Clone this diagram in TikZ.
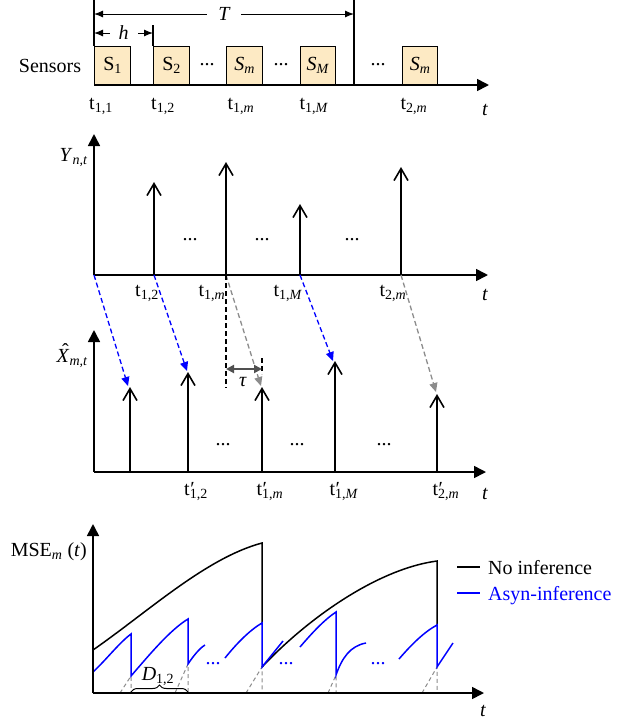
\documentclass[tikz,border=0pt]{standalone}
\usepackage{fontspec}
\setmainfont{Liberation Serif}
\usetikzlibrary{arrows.meta,decorations.pathreplacing}
\definecolor{boxfill}{RGB}{253,234,196}
\definecolor{dashgray}{RGB}{140,140,140}
\definecolor{taugray}{RGB}{80,80,80}
\newcommand\sbs[1]{\textsubscript{#1}}
\newcommand\tpr[1]{t\rlap{\kern0.5pt′}\textsubscript{#1}}
\newcommand\xhat{\rlap{\kern5.5pt\raisebox{5pt}{ˆ}}\textit{X}}
\begin{document}
\begin{tikzpicture}[x=1pt,y=-1pt,font=\fontsize{20}{24}\selectfont,
 axis/.style={line width=1.6pt,-{Triangle[length=12pt,width=12pt]}},
 spike/.style={line width=1.6pt,-{Straight Barb[length=12pt,width=14pt]}},
 sbox/.style={draw,line width=1.2pt,fill=boxfill,anchor=south west,minimum height=38pt,inner sep=0pt},
 dimline/.style={line width=1pt,{Latex[length=9pt,width=7pt]}-{Latex[length=9pt,width=7pt]}},
 guide/.style={line width=1.2pt},
 bluearr/.style={blue,line width=1.3pt,dash pattern=on 5pt off 3pt,-{Triangle[length=9pt,width=8pt]}},
 grayarr/.style={dashgray,line width=1.3pt,dash pattern=on 5pt off 3pt,-{Triangle[length=9pt,width=8pt]}},
 lbl/.style={anchor=base,inner sep=0pt},
 blk/.style={line width=1.5pt},
 blu/.style={blue,line width=1.5pt},
 gdash/.style={dashgray,line width=1pt,dash pattern=on 4pt off 3pt},
 bdash/.style={line width=1.2pt,dash pattern=on 5pt off 3pt},
]
\useasboundingbox (0,0) rectangle (644,721);

% ---------------- Panel 1: sensors ----------------
\node[anchor=center] (sens) at (50,66) {Sensors};
\node[sbox,minimum width=36pt] (s1) at (94,85) {S\sbs{1}};
\node[sbox,minimum width=36pt] (s2) at (153,85) {S\sbs{2}};
\node[sbox,minimum width=36pt] (s3) at (226,85) {\textit{S}\sbs{\textit{m}}};
\node[sbox,minimum width=35pt] (s4) at (300,85) {\textit{S}\sbs{\textit{M}}};
\node[sbox,minimum width=35pt] (s5) at (402,85) {\textit{S}\sbs{\textit{m}}};
\node[lbl] (d1) at (207,65) {...};
\node[lbl] (d2) at (281,65) {...};
\node[lbl] (d3) at (378,65) {...};
\coordinate (g0) at (94,0);
\coordinate (gh) at (153,25);
\coordinate (gT0) at (354,0);
\coordinate (gT1) at (354,85);
\draw[guide] (g0) -- (s1.north west);
\draw[guide] (gh) -- (s2.north west);
\draw[guide] (gT0) -- (gT1);
\draw[dimline] (94,14) -- node[fill=white,inner xsep=11pt,inner ysep=3pt,font=\fontsize{20}{24}\itshape] (T) {T} (354,14);
\draw[dimline] (94,33) -- node[fill=white,inner xsep=9pt,inner ysep=2pt,font=\fontsize{20}{24}\itshape] (h) {h} (153,33);
\coordinate (a1o) at (94,85);
\coordinate (a1e) at (489,85);
\draw[axis] (a1o) -- (a1e);
\node[lbl] at (101,109) {t\sbs{1,1}};
\node[lbl] at (163,109) {t\sbs{1,2}};
\node[lbl] at (241,109) {t\sbs{1,\textit{m}}};
\node[lbl] at (314,109) {t\sbs{1,\textit{M}}};
\node[lbl] at (414,109) {t\sbs{2,\textit{m}}};
\node[lbl] at (485,115) {\textit{t}};

% ---------------- Panel 2: Y ----------------
\coordinate (o2) at (94,275);
\coordinate (y2) at (94,134);
\coordinate (x2) at (488,275);
\draw[axis] (o2) -- (y2);
\draw[axis] (o2) -- (x2);
\node[anchor=base east,inner sep=0pt] at (88,161) {\textit{Y}\sbs{\textit{n,t}}};
\coordinate (p1b) at (154,275); \coordinate (p1t) at (154,182);
\coordinate (p2b) at (226,275); \coordinate (p2t) at (226,162);
\coordinate (p3b) at (300,275); \coordinate (p3t) at (300,204);
\coordinate (p4b) at (401,275); \coordinate (p4t) at (401,167);
\draw[spike] (p1b) -- (p1t);
\draw[spike] (p2b) -- (p2t);
\draw[spike] (p3b) -- (p3t);
\draw[spike] (p4b) -- (p4t);
\node[lbl] at (190,240) {...};
\node[lbl] at (262,240) {...};
\node[lbl] at (352,240) {...};
\node[lbl] at (147,296) {t\sbs{1,2}};
\node[lbl] at (212,296) {t\sbs{1,\textit{m}}};
\node[lbl] at (288,296) {t\sbs{1,\textit{M}}};
\node[lbl] at (393,296) {t\sbs{2,\textit{m}}};
\node[lbl] at (485,300) {\textit{t}};

% ---------------- Panel 3: X hat ----------------
\coordinate (o3) at (94,472);
\coordinate (y3) at (94,330);
\coordinate (x3) at (486,472);
\draw[axis] (o3) -- (y3);
\draw[axis] (o3) -- (x3);
\node[anchor=base east,inner sep=0pt] at (88,362) {\xhat\sbs{\textit{m,t}}};
\coordinate (q1b) at (130,472); \coordinate (q1t) at (130,387);
\coordinate (q2b) at (188,472); \coordinate (q2t) at (188,372);
\coordinate (q3b) at (262,472); \coordinate (q3t) at (262,387);
\coordinate (q4b) at (335,472); \coordinate (q4t) at (335,361);
\coordinate (q5b) at (437,472); \coordinate (q5t) at (437,394);
\draw[spike] (q1b) -- (q1t);
\draw[spike] (q2b) -- (q2t);
\draw[spike] (q3b) -- (q3t);
\draw[spike] (q4b) -- (q4t);
\draw[spike] (q5b) -- (q5t);
\node[lbl] at (223,445) {...};
\node[lbl] at (297,445) {...};
\node[lbl] at (384,445) {...};
\node[lbl] at (196,495) {\tpr{1,2}};
\node[lbl] at (270,495) {\tpr{1,\textit{m}}};
\node[lbl] at (344,495) {\tpr{1,\textit{M}}};
\node[lbl] at (446,495) {\tpr{2,\textit{m}}};
\node[lbl] at (485,499) {\textit{t}};
% dashed mapping arrows
\draw[bluearr] (o2) -- (128,386);
\draw[bluearr] (p1b) -- (187,371);
\draw[bluearr] (p3b) -- (333,361);
\draw[grayarr] (p2b) -- (261,386);
\draw[grayarr] (p4b) -- (436,392);
% tau
\coordinate (tauA) at (226,388);
\coordinate (tauB) at (262,358);
\coordinate (tauC) at (262,374);
\draw[bdash] (p2b) -- (tauA);
\draw[bdash] (tauB) -- (tauC);
\draw[taugray,line width=2pt,{Triangle[length=8pt,width=8pt]}-{Triangle[length=8pt,width=8pt]}] (226,369) -- (262,369);
\node[lbl] at (243,386) {\textit{τ}};

% ---------------- Panel 4: MSE ----------------
\coordinate (o4) at (93,693);
\coordinate (y4) at (93,524);
\coordinate (x4) at (484,693);
\node[anchor=base east,inner sep=0pt] at (87,556) {MSE\sbs{\textit{m}} (\textit{t})};
% gray dashed guides
\draw[gdash] (120,693) -- (131,676) -- (131,693);
\draw[gdash] (175,693) -- (188,664) -- (188,693);
\draw[gdash] (246,693) -- (262,667) -- (262,693);
\draw[gdash] (328,693) -- (336,675) -- (336,693);
\draw[gdash] (422,693) -- (437,667) -- (437,693);
% black curves
\draw[blk] (93,650) .. controls (149,611) and (206,558) .. (262,543) -- (262,623);
\draw[blk] (262,667) .. controls (307,619) and (377,569) .. (437,561) -- (437,625);
% blue curves
\draw[blu] (93,672) .. controls (106,660) and (119,643) .. (131,634) -- (131,676)
  .. controls (150,654) and (170,630) .. (188,619) -- (188,664)
  .. controls (194,655) and (200,648) .. (205,645);
\draw[blu] (225,658) .. controls (237,643) and (250,630) .. (262,623) -- (262,667) -- (283,641);
\draw[blu] (300,647) .. controls (312,633) and (324,620) .. (336,612) -- (336,675)
  .. controls (342,658) and (350,646) .. (366,643);
\draw[blu] (399,659) .. controls (411,645) and (424,632) .. (437,625) -- (437,667) -- (453,643);
\node[lbl,text=blue] at (213,664) {...};
\node[lbl,text=blue] at (286,664) {...};
\node[lbl,text=blue] at (378,664) {...};
\draw[axis] (o4) -- (y4);
\draw[axis] (o4) -- (x4);
\node[lbl] at (483,716) {\textit{t}};
\draw[line width=1pt,decorate,decoration={brace,amplitude=7pt}] (131,692) -- (188,692);
\node[lbl] at (158,680) {\textit{D}\sbs{1,2}};
% legend
\coordinate (l1a) at (457,567); \coordinate (l1b) at (480,567);
\coordinate (l2a) at (457,593); \coordinate (l2b) at (480,593);
\draw[line width=1.3pt] (l1a) -- (l1b);
\draw[blue,line width=1.3pt] (l2a) -- (l2b);
\node[anchor=base west,inner sep=0pt] at (488,574) {No inference};
\node[anchor=base west,inner sep=0pt,text=blue] at (488,600) {Asyn-inference};
\end{tikzpicture}
\end{document}
